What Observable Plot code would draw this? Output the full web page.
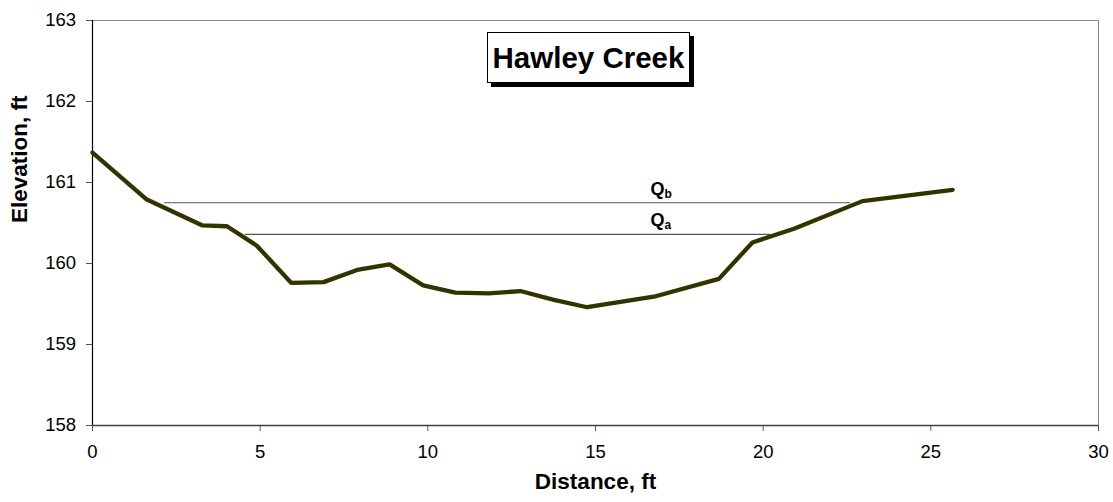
<!DOCTYPE html>
<html>
<head>
<meta charset="utf-8">
<script src="https://cdn.jsdelivr.net/npm/d3@7"></script>
<script src="https://cdn.jsdelivr.net/npm/@observablehq/plot@0.6"></script>
<style>
  html, body { margin: 0; padding: 0; background: #fff; }
  #wrap { position: relative; width: 1113px; height: 502px; font-family: "Liberation Sans", Arial, sans-serif; }
  #wrap [aria-label$="tick label"] { font-size: 18.5px; }
  #title {
    position: absolute; left: 487px; top: 32px; width: 201px; height: 49px;
    border: 1px solid #000; background: #fff; box-shadow: 4px 4px 0 #000;
    font-weight: bold; font-size: 29.5px; line-height: 49px; text-align: center; color: #000;
  }
</style>
</head>
<body>
<div id="wrap"></div>
<script>
// Cross-section survey (distance ft, elevation ft)
const distance = [0, 1.62, 3.28, 4.01, 4.9, 5.93, 6.89, 7.89, 8.86, 9.86, 10.82, 11.82, 12.76, 13.76, 14.75, 16.74, 18.68, 19.68, 20.92, 22.96, 25.65];
const elevation = [161.37, 160.79, 160.47, 160.46, 160.22, 159.76, 159.77, 159.92, 159.99, 159.73, 159.64, 159.63, 159.66, 159.55, 159.46, 159.59, 159.81, 160.26, 160.43, 160.77, 160.91];

// Flow levels
const flowNames = ["Q", "Q"];
const flowSubs = ["b", "a"];
const flowElev = [160.75, 160.36];
const flowStart = [2.15, 4.56];
const flowEnd = [22.61, 20.22];
const flowLabelX = [16.64, 16.64];
const flowLabelY = [160.92, 160.54];

const xTicks = [0, 5, 10, 15, 20, 25, 30];
const yTicks = [158, 159, 160, 161, 162, 163];
const titleText = "Hawley Creek";
const xLabel = "Distance, ft";
const yLabel = "Elevation, ft";

const profile = distance.map((d, i) => ({d, e: elevation[i]}));
const flows = flowElev.map((e, i) => ({e, x1: flowStart[i], x2: flowEnd[i], lx: flowLabelX[i], ly: flowLabelY[i], name: flowNames[i], sub: flowSubs[i]}));

const chart = Plot.plot({
  width: 1113,
  height: 502,
  marginLeft: 92,
  marginRight: 15,
  marginTop: 20,
  marginBottom: 77,
  style: {fontFamily: "'Liberation Sans', Arial, sans-serif", fontSize: "18px", color: "#000", background: "#fff"},
  x: {domain: [0, 30]},
  y: {domain: [158, 163]},
  marks: [
    Plot.ruleY([163], {stroke: "#888", strokeWidth: 1}),
    Plot.ruleX([30], {stroke: "#888", strokeWidth: 1}),
    Plot.axisX({ticks: xTicks, tickFormat: "d", tickSize: 6, tickPadding: 13, stroke: "#555", label: null}),
    Plot.axisY({ticks: yTicks, tickFormat: "d", tickSize: 6, tickPadding: 10.5, stroke: "#555", label: null}),
    Plot.ruleY([158], {stroke: "#404040", strokeWidth: 1.5}),
    Plot.ruleX([0], {stroke: "#000", strokeWidth: 1.2}),
    Plot.ruleY(flows, {y: "e", x1: "x1", x2: "x2", stroke: "#555", strokeWidth: 1.2}),
    Plot.line(profile, {x: "d", y: "e", stroke: "#333300", strokeWidth: 4.3, strokeLinejoin: "miter", strokeLinecap: "round"}),
    Plot.text(flows, {x: "lx", y: "ly", text: "name", textAnchor: "start", fontWeight: "bold", fontSize: 18}),
    Plot.text(flows, {x: "lx", y: "ly", text: "sub", textAnchor: "start", fontWeight: "bold", fontSize: 12, dx: 14, dy: 5}),
    Plot.text([xLabel], {frameAnchor: "bottom", dy: 63, fontWeight: "bold", fontSize: 22.5}),
    Plot.text([yLabel], {frameAnchor: "left", rotate: -90, dx: -73, fontWeight: "bold", fontSize: 22.5})
  ]
});

const wrap = document.getElementById("wrap");
wrap.appendChild(chart);
const t = document.createElement("div");
t.id = "title";
t.textContent = titleText;
wrap.appendChild(t);
</script>
</body>
</html>
